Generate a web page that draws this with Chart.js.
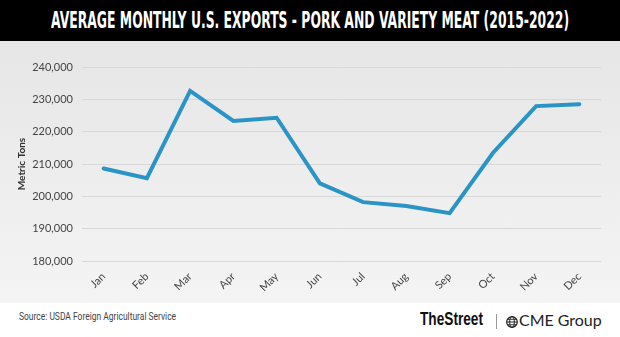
<!DOCTYPE html>
<html lang="en">
  <head>
    <meta charset="UTF-8" />
    <title>Average Monthly U.S. Exports - Pork and Variety Meat</title>
    <script src="https://cdn.jsdelivr.net/npm/chart.js"></script>
    <style>
      html, body { margin: 0; padding: 0; background: #fff; }
      #wrap { position: relative; width: 620px; height: 337px; overflow: hidden; background: #fff; }
      #head { position: absolute; left: 0; top: 0; width: 620px; height: 41px; background: #000; }
      #title {
        position: absolute; left: 51px; top: 7px; white-space: nowrap; color: #fff;
        font: bold 23px "Liberation Sans Narrow", "DejaVu Sans Condensed", sans-serif;
        transform-origin: left top;
      }
      #plot { position: absolute; left: 0; top: 41px; width: 620px; height: 262px;
        background: linear-gradient(#e6e6e6, #f4f4f4); }
      .fit { transform-origin: left top; white-space: nowrap; }
      #source { position: absolute; left: 19px; top: 310px; color: #444;
        font: 11px "Liberation Sans Narrow", "Roboto", sans-serif; }
      #street { position: absolute; left: 420px; top: 309px; font: bold 18px "Liberation Sans Narrow", sans-serif;
        color: #111; }
      #bar { position: absolute; left: 496px; top: 314px; width: 1px; height: 15px; background: #999; }
      #globe { position: absolute; left: 506px; top: 316px; }
      #cme { position: absolute; left: 519px; top: 311px; font: 15px "Lato", sans-serif; color: #222; }
    </style>
  </head>
  <body>
    <div id="wrap">
      <div id="head"><div id="title">AVERAGE MONTHLY U.S. EXPORTS - PORK AND VARIETY MEAT (2015-2022)</div></div>
      <div id="plot"><canvas id="exportsChart" width="620" height="262"></canvas></div>
      <div id="source" class="fit">Source: USDA Foreign Agricultural Service</div>
      <div id="street" class="fit">TheStreet</div>
      <div id="bar"></div>
      <svg id="globe" width="12" height="12" viewBox="0 0 12 12">
        <circle cx="6" cy="6" r="5.3" fill="none" stroke="#222" stroke-width="1.2" />
        <ellipse cx="6" cy="6" rx="2.3" ry="5.3" fill="none" stroke="#222" stroke-width="1" />
        <line x1="0.7" y1="6" x2="11.3" y2="6" stroke="#222" stroke-width="1" />
        <line x1="1.5" y1="3.3" x2="10.5" y2="3.3" stroke="#222" stroke-width="0.9" />
        <line x1="1.5" y1="8.7" x2="10.5" y2="8.7" stroke="#222" stroke-width="0.9" />
      </svg>
      <div id="cme" class="fit">CME Group</div>
    </div>

    <script>
      // data (metric tons)
      const months = ["Jan", "Feb", "Mar", "Apr", "May", "Jun", "Jul", "Aug", "Sep", "Oct", "Nov", "Dec"];
      const avgExports = [208600, 205600, 232600, 223300, 224300, 204000, 198200, 197000, 194800, 213400, 227900, 228500];
      const yMin = 180000;
      const yMax = 240000;
      const yStep = 10000;

      // squeeze texts to the widths of the original
      function fitWidth(id, w) {
        const el = document.getElementById(id);
        el.style.transform = "scaleX(" + (w / el.offsetWidth) + ")";
      }
      fitWidth("title", 518);
      fitWidth("source", 157);
      fitWidth("street", 63);
      fitWidth("cme", 83);

      const ctx = document.getElementById("exportsChart").getContext("2d");

      new Chart(ctx, {
        type: "line",
        data: {
          labels: months,
          datasets: [
            {
              label: "Average monthly exports",
              data: avgExports,
              borderColor: "#2994c5",
              borderWidth: 4,
              borderCapStyle: "round",
              pointRadius: 0,
              tension: 0,
              fill: false,
            },
          ],
        },
        options: {
          responsive: false,
          animation: false,
          layout: { padding: { top: 26, right: 19, bottom: 0, left: 0 } },
          plugins: { legend: { display: false }, tooltip: { enabled: false } },
          scales: {
            x: {
              offset: true,
              grid: { display: false },
              border: { display: false },
              ticks: {
                autoSkip: false,
                minRotation: 45,
                maxRotation: 45,
                padding: 1,
                color: "#444",
                font: { family: "Lato", size: 11 },
              },
              afterFit: (scale) => { scale.height = 42; },
            },
            y: {
              min: yMin,
              max: yMax,
              border: { display: false },
              grid: { color: "#d8d8d8", drawTicks: false },
              ticks: {
                stepSize: yStep,
                padding: 9,
                color: "#444",
                font: { family: "Lato", size: 11 },
                callback: (v) => v.toLocaleString("en-US"),
              },
              title: {
                display: true,
                text: "Metric Tons",
                color: "#333",
                font: { family: "Lato", size: 10, weight: "bold" },
                padding: { top: 16, bottom: 0 },
              },
              afterFit: (scale) => { scale.width = 82; },
            },
          },
        },
      });
    </script>
  </body>
</html>
